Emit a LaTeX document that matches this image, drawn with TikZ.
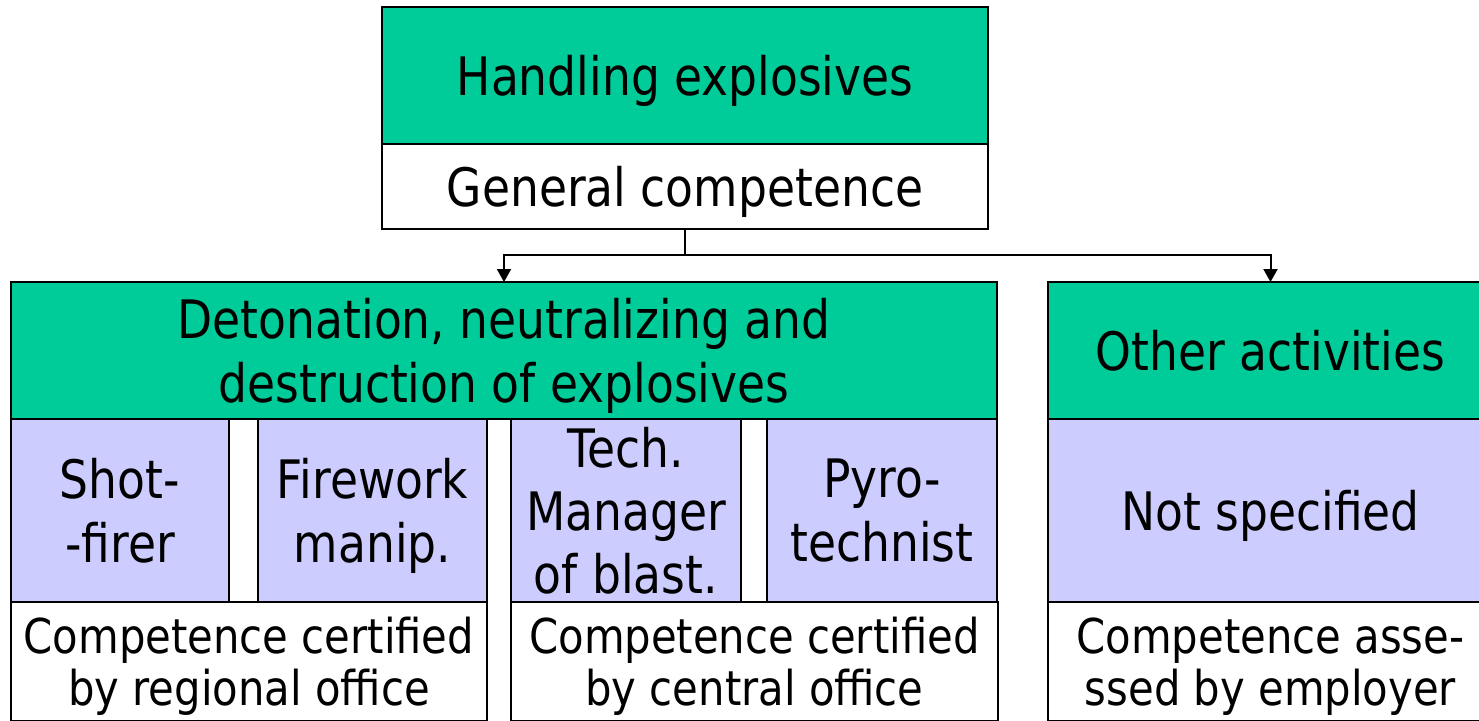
\documentclass[tikz,border=0pt]{standalone}
\usepackage{fontspec}
\setmainfont{DejaVu Sans}
\newfontfamily\bodyfont{DejaVu Sans}[FakeStretch=0.86]
\newfontfamily\notefont{DejaVu Sans}[FakeStretch=0.87]
\usetikzlibrary{arrows.meta}
\definecolor{grn}{RGB}{0,204,153}
\definecolor{lav}{RGB}{204,204,255}
\begin{document}
\begin{tikzpicture}[x=1pt,y=-1pt,
  box/.style={draw=black,line width=1.5pt,anchor=north west,inner sep=0pt,outer sep=0pt,
    align=center,text depth=0pt,font=\bodyfont\fontsize{53}{64}\selectfont},
  head/.style={box,fill=grn},
  role/.style={box,fill=lav},
  note/.style={box,fill=white,font=\notefont\fontsize{48}{52}\selectfont},
  link/.style={draw=black,line width=2pt},
  arr/.style={link,-{Triangle[width=14pt,length=13pt]}}]
\useasboundingbox (0,0) rectangle (1479,720);
\fill[white] (0,0) rectangle (1479,720);
% top
\node[head,minimum width=606pt,minimum height=137pt] (hand) at (382,7) {Handling explosives};
\node[box,fill=white,minimum width=606pt,minimum height=85pt] (gen) at (382,144) {General competence};
% second level
\node[head,minimum width=986pt,minimum height=137pt] (det) at (11,282) {Detonation, neutralizing and\\destruction of explosives};
\node[head,minimum width=445pt,minimum height=137pt] (oth) at (1048,282) {Other activities};
% roles
\node[role,minimum width=218pt,minimum height=183pt] (shot) at (11,419) {Shot-\\-firer};
\node[role,minimum width=229pt,minimum height=183pt] (fire) at (258,419) {Firework\\manip.};
\node[role,minimum width=230pt,minimum height=183pt,font=\bodyfont\fontsize{53}{63}\selectfont] (tech) at (511,419) {Tech.\\Manager\\of blast.};
\node[role,minimum width=230pt,minimum height=183pt] (pyro) at (767,419) {Pyro-\\technist};
\node[role,minimum width=445pt,minimum height=183pt] (nots) at (1048,419) {Not specified};
% certification
\node[note,minimum width=476pt,minimum height=118.5pt] (creg) at (11,602) {Competence certified\\by regional office};
\node[note,minimum width=487pt,minimum height=118.5pt] (ccen) at (511,602) {Competence certified\\by central office};
\node[note,minimum width=445pt,minimum height=118.5pt] (cemp) at (1048,602) {Competence asse-\\ssed by employer};
% connectors
\coordinate (jn) at (685,255);
\draw[link] (gen.south) -- (gen.south |- jn);
\draw[arr] (jn) -| (det.north);
\draw[arr] (jn) -| (oth.north);
\end{tikzpicture}
\end{document}
